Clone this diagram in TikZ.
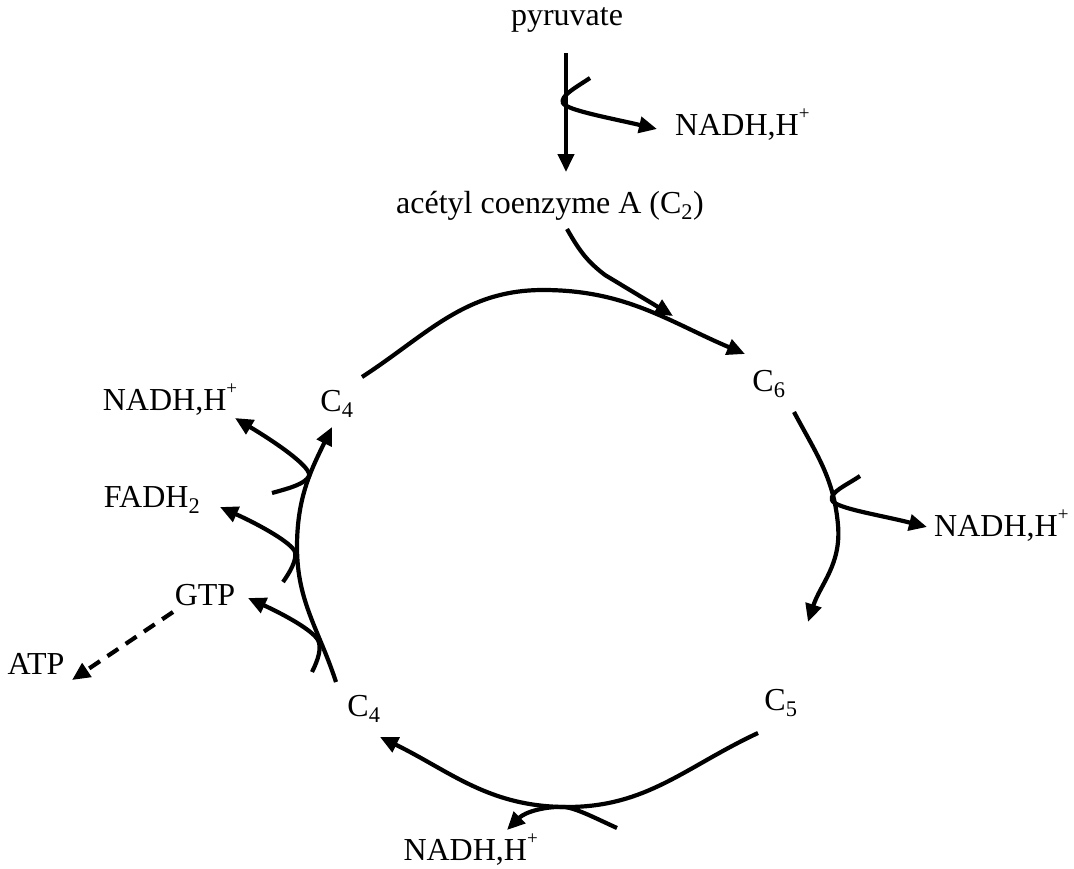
\documentclass[tikz,border=0pt]{standalone}
\usepackage{fontspec}
\setmainfont{Liberation Serif}
\usetikzlibrary{arrows.meta}
\newcommand{\hplus}{\raisebox{0.5em}{\fontsize{19}{19}\selectfont +}}
\begin{document}
\begin{tikzpicture}[x=1pt,y=-1pt,
  lbl/.style={inner sep=0pt,font=\fontsize{32}{37}\selectfont},
  ln/.style={line width=4.2pt},
  arr/.style={ln,-{Triangle[length=18pt,width=16pt]}},
  darr/.style={arr,dash pattern=on 13pt off 9pt}]
\path[use as bounding box] (0,0) rectangle (1074,868);
% labels
\node[lbl] (pyr) at (567,20) {pyruvate};
\node[lbl,anchor=west] (nadh1) at (675,125) {NADH,H\hplus};
\node[lbl] (acoa) at (550,206) {acétyl coenzyme A (C\textsubscript{2})};
\node[lbl] (c6) at (769,384) {C\textsubscript{6}};
\node[lbl] (c4a) at (337,404) {C\textsubscript{4}};
\node[lbl,anchor=west] (nadh2) at (934,526) {NADH,H\hplus};
\node[lbl] (c5) at (781,703) {C\textsubscript{5}};
\node[lbl] (c4b) at (364,709) {C\textsubscript{4}};
\node[lbl,anchor=east] (nadh3) at (538,850) {NADH,H\hplus};
\node[lbl] (nadh4) at (170,400) {NADH,H\hplus};
\node[lbl] (fadh) at (152,500) {FADH\textsubscript{2}};
\node[lbl] (gtp) at (205,595) {GTP};
\node[lbl] (atp) at (36,664) {ATP};
% coordinates
\coordinate (pa) at (566,53);
\coordinate (pb) at (566,172);
\coordinate (b1s) at (590,78);
\coordinate (b1t) at (657,129);
\coordinate (as) at (567,229);
\coordinate (at) at (673,316);
\coordinate (ts) at (362,377);
\coordinate (tp) at (543,290);
\coordinate (tt) at (745,354);
\coordinate (rs) at (794,412);
\coordinate (rm) at (838,525);
\coordinate (rt) at (808,622);
\coordinate (r2s) at (860,476);
\coordinate (r2t) at (927,527);
\coordinate (bs) at (758,733);
\coordinate (bm) at (567,807);
\coordinate (bt) at (380,737);
\coordinate (b2s) at (617,828);
\coordinate (b2t) at (507,830);
\coordinate (ls) at (336,682);
\coordinate (lm) at (297,547);
\coordinate (lt) at (332,427);
\coordinate (l1s) at (272,493);
\coordinate (l1t) at (235,418);
\coordinate (l2s) at (283,582);
\coordinate (l2t) at (220,507);
\coordinate (l3s) at (312,672);
\coordinate (l3t) at (248,598);
\coordinate (gs) at (173,612);
\coordinate (gt) at (72,680);
% pyruvate -> acetyl CoA
\draw[arr] (pa) -- (pb);
\draw[arr] (b1s) .. controls (575,88) and (560,96) .. (563,103)
  .. controls (566,110) and (610,118) .. (b1t);
% acetyl CoA into cycle
\draw[arr] (as) .. controls (580,252) and (588,262) .. (605,275) -- (at);
% cycle
\draw[arr] (ts) to[out=33,in=180] (tp) to[out=0,in=157] (tt);
\draw[arr] (rs) to[out=-62,in=95] (rm) to[out=-85,in=72] (rt);
\draw[arr] (r2s) .. controls (845,486) and (830,492) .. (832,500)
  .. controls (834,508) and (880,515) .. (r2t);
\draw[arr] (bs) to[out=-155,in=0] (bm) to[out=180,in=-26] (bt);
\draw[arr] (b2s) .. controls (595,818) and (578,809) .. (565,807)
  .. controls (545,806) and (525,812) .. (b2t);
\draw[arr] (ls) to[out=108,in=-90] (lm) to[out=90,in=-116] (lt);
\draw[arr] (l1s) .. controls (290,488) and (305,484) .. (309,476)
  .. controls (312,468) and (280,445) .. (l1t);
\draw[arr] (l2s) .. controls (290,572) and (297,560) .. (295,552)
  .. controls (292,543) and (260,525) .. (l2t);
\draw[arr] (l3s) .. controls (318,660) and (322,648) .. (318,640)
  .. controls (312,630) and (285,615) .. (l3t);
\draw[darr] (gs) -- (gt);
\end{tikzpicture}
\end{document}
